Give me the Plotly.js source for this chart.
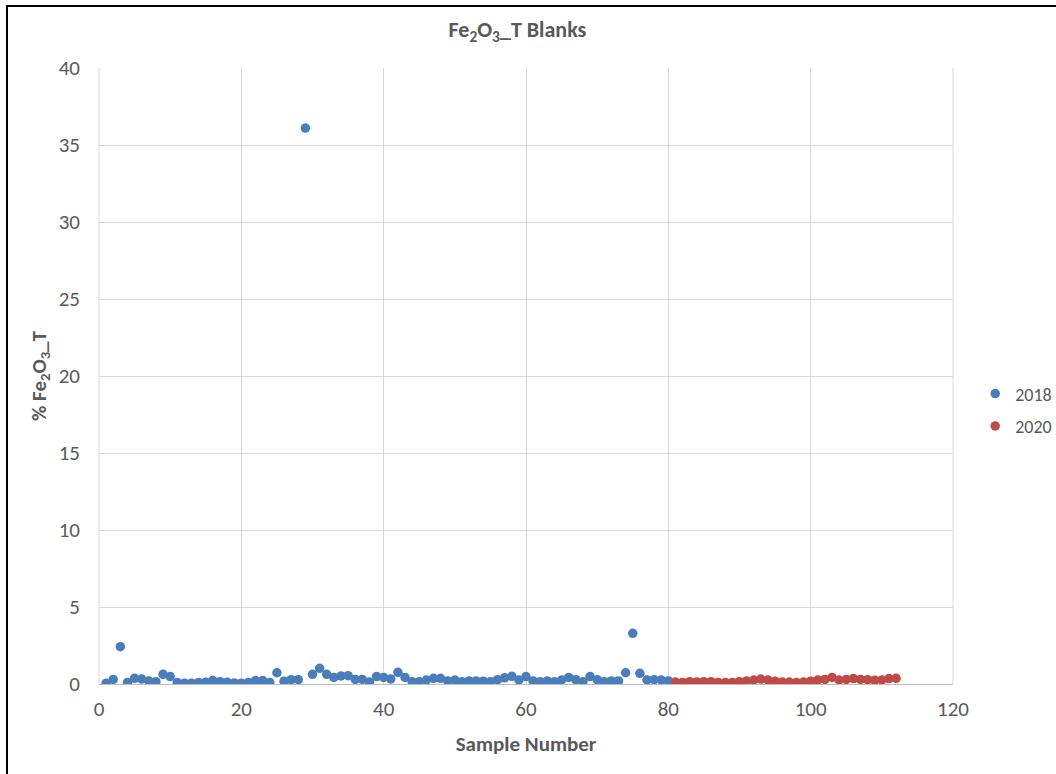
<!DOCTYPE html>
<html>
<head>
<meta charset="utf-8">
<script src="https://cdn.plot.ly/plotly-3.0.1.min.js"></script>
<style>
html,body{margin:0;padding:0;background:#fff;overflow:hidden;width:1056px;height:774px;}
#frame{position:absolute;left:6px;top:5px;width:1060px;height:780px;border-left:2px solid #000;border-top:2px solid #000;}
#chart{position:absolute;left:0;top:0;width:1056px;height:774px;}
</style>
</head>
<body>
<div id="frame"></div>
<div id="chart"></div>
<script>
// 2018 series
const samples2018 = [1,2,3,4,5,6,7,8,9,10,11,12,13,14,15,16,17,18,19,20,21,22,23,24,25,26,27,28,29,30,
  31,32,33,34,35,36,37,38,39,40,41,42,43,44,45,46,47,48,49,50,51,52,53,54,55,56,57,58,59,60,
  61,62,63,64,65,66,67,68,69,70,71,72,73,74,75,76,77,78,79,80];
const values2018 = [0.05,0.30,2.42,0.10,0.37,0.32,0.20,0.15,0.63,0.48,0.09,0.05,0.05,0.10,0.12,0.22,0.15,0.12,0.07,0.05,
  0.10,0.22,0.22,0.09,0.73,0.18,0.28,0.28,36.1,0.63,
  1.02,0.63,0.43,0.52,0.54,0.30,0.30,0.13,0.48,0.43,0.33,0.76,0.43,0.15,0.15,0.26,0.37,0.37,0.20,0.26,
  0.15,0.20,0.20,0.18,0.15,0.28,0.40,0.50,0.26,0.48,
  0.20,0.15,0.20,0.15,0.26,0.43,0.28,0.15,0.48,0.28,0.15,0.20,0.20,0.73,3.29,0.69,0.26,0.28,0.26,0.20];
// 2020 series
const samples2020 = [81,82,83,84,85,86,87,88,89,90,91,92,93,94,95,96,97,98,99,100,101,102,103,104,105,106,107,108,109,110,111,112];
const values2020 = [0.13,0.10,0.15,0.13,0.15,0.15,0.10,0.10,0.10,0.15,0.20,0.26,0.32,0.26,0.18,0.13,0.13,0.10,0.13,0.18,
  0.26,0.30,0.43,0.26,0.30,0.35,0.30,0.28,0.24,0.26,0.35,0.37];
const seriesNames = ['2018','2020'];
const titleText = 'Fe<sub>2</sub>O<sub>3</sub>_T Blanks';
const xTitle = 'Sample Number';
const yTitle = '% Fe<sub>2</sub>O<sub>3</sub>_T';

const font = 'Carlito, "Open Sans", Lato, sans-serif';
const grey = '#595959';

const traces = [
  {x: samples2018, y: values2018, name: seriesNames[0], type: 'scatter', mode: 'markers',
   legendgroup: 'a', marker: {color: '#4a7ebb', size: 9.5}},
  {x: samples2020, y: values2020, name: seriesNames[1], type: 'scatter', mode: 'markers',
   legendgroup: 'b', marker: {color: '#be4b48', size: 9.5}}
];

const layout = {
  width: 1056, height: 774,
  paper_bgcolor: 'rgba(0,0,0,0)', plot_bgcolor: 'rgba(0,0,0,0)',
  margin: {l: 99, r: 103, t: 68, b: 90, autoexpand: false},
  font: {family: font, color: grey},
  title: {text: titleText, x: 0.49, xanchor: 'center', y: 0.962, yanchor: 'middle',
          font: {family: font, size: 22, color: grey, weight: 'bold'}},
  xaxis: {range: [0, 120], dtick: 20, tick0: 0, showgrid: true, gridcolor: '#d9d9d9', gridwidth: 1,
          zeroline: false, showline: true, linecolor: '#bfbfbf', linewidth: 1, mirror: false,
          ticks: '', ticklabelstandoff: 6, tickfont: {size: 21, color: grey},
          title: {text: xTitle, standoff: 15, font: {size: 21, color: grey, weight: 'bold'}}},
  yaxis: {range: [0, 40], dtick: 5, tick0: 0, showgrid: true, gridcolor: '#d9d9d9', gridwidth: 1,
          zeroline: false, showline: false, ticks: '', ticklabelstandoff: 18,
          tickfont: {size: 21, color: grey},
          title: {text: yTitle, standoff: 6, font: {size: 21, color: grey, weight: 'bold'}}},
  shapes: [{type: 'line', xref: 'paper', yref: 'paper', x0: 0, x1: 0, y0: 0, y1: 1,
            line: {color: '#d9d9d9', width: 1}},
           {type: 'line', xref: 'paper', yref: 'paper', x0: 1, x1: 1, y0: 0, y1: 1,
            line: {color: '#d9d9d9', width: 1}}],
  showlegend: true,
  legend: {x: 1.026, xanchor: 'left', y: 0.445, yanchor: 'middle', itemwidth: 30,
           traceorder: 'grouped', tracegroupgap: 6,
           font: {size: 18, color: grey}, bgcolor: 'rgba(0,0,0,0)'}
};

Plotly.newPlot('chart', traces, layout, {displayModeBar: false, staticPlot: true});
</script>
</body>
</html>
